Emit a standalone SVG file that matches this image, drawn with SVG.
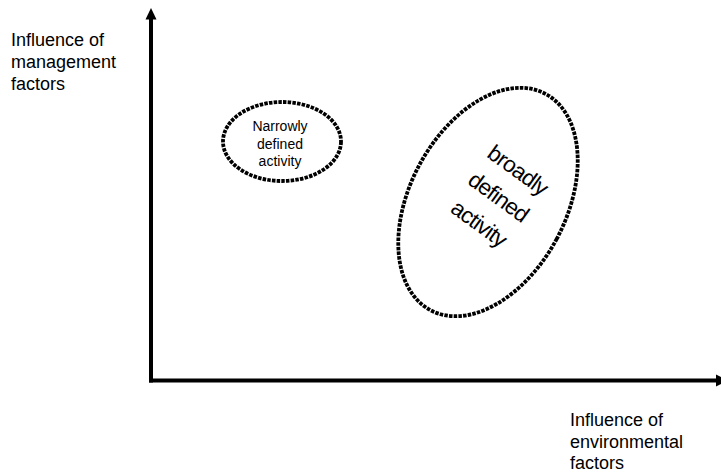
<svg xmlns="http://www.w3.org/2000/svg" width="721" height="473" viewBox="0 0 721 473">
<style>
text{font-family:"Liberation Sans",Arial,sans-serif;fill:#000}
.lbl{font-size:18px}
.oval{fill:none;stroke:#000;stroke-width:3.8;stroke-dasharray:3.5 1.2}
.axis{stroke:#000;stroke-width:4;fill:none}
</style>
<rect width="721" height="473" fill="#fff"/>
<g id="connectors">
<line class="axis" x1="151" y1="18" x2="151" y2="382.5"/>
<polygon points="151,8 145.5,19.5 156.5,19.5" fill="#000"/>
<line class="axis" x1="149" y1="380.5" x2="717" y2="380.5"/>
<polygon points="716,374.5 728,380.5 716,386.5" fill="#000"/>
</g>
<g id="y-label">
<text class="lbl" x="11" y="45.5">Influence of</text>
<text class="lbl" x="11" y="67.5">management</text>
<text class="lbl" x="11" y="89.5">factors</text>
</g>
<g id="x-label">
<text class="lbl" x="570" y="425.5">Influence of</text>
<text class="lbl" x="570" y="447.5">environmental</text>
<text class="lbl" x="570" y="469">factors</text>
</g>
<g id="narrow">
<ellipse class="oval" cx="282" cy="141.5" rx="59" ry="39.5"/>
<text x="280" y="130.5" font-size="14" text-anchor="middle">Narrowly</text>
<text x="280" y="148.5" font-size="14" text-anchor="middle">defined</text>
<text x="280" y="166" font-size="14" text-anchor="middle">activity</text>
</g>
<g id="broad">
<ellipse class="oval" cx="0" cy="0" rx="78" ry="122.5" transform="translate(488,202) rotate(28)"/>
<g transform="translate(494,203) rotate(36)" font-size="22.5">
<text x="0" y="-33" text-anchor="middle" letter-spacing="-0.8">broadly</text>
<text x="0" y="0" text-anchor="middle" letter-spacing="-0.8">defined</text>
<text x="0" y="33" text-anchor="middle" letter-spacing="-0.8">activity</text>
</g>
</g>
</svg>
